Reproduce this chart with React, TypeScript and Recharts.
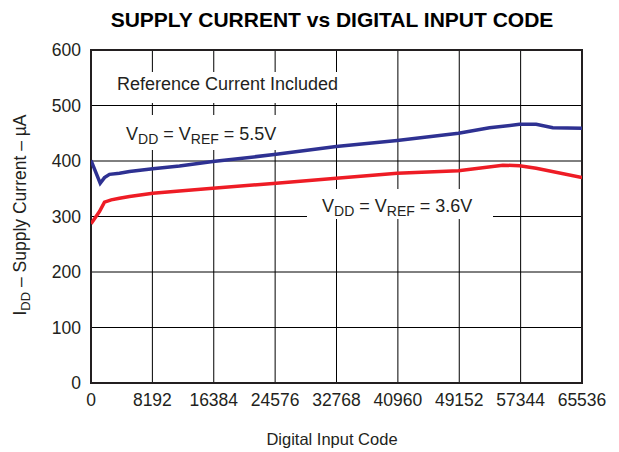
import React from 'react';
import {
  LineChart,
  Line,
  XAxis,
  YAxis,
  CartesianGrid,
  ReferenceArea,
  Customized,
} from 'recharts';

const xTicks = [0, 8192, 16384, 24576, 32768, 40960, 49152, 57344, 65536];
const yTicks = [0, 100, 200, 300, 400, 500, 600];

const codes55 = [0, 1228, 1800, 2470, 3800, 5140, 8250, 11810, 16260, 24720, 32730, 40870, 49050, 53190, 57200, 59420, 61640, 65536];
const current55 = [401, 360, 370, 376, 378, 381, 386, 391, 399, 412, 426, 437, 450, 460, 466, 466, 460, 459];

const codes36 = [0, 1130, 1800, 2700, 3800, 5140, 8250, 11810, 16260, 24720, 32730, 40870, 49050, 54970, 57200, 59420, 65536];
const current36 = [287, 309, 326, 330, 333, 336, 342, 346, 351, 360, 369, 378, 382.5, 392.5, 391.5, 387, 370];

const data55 = codes55.map((c, i) => ({ code: c, v: current55[i] }));
const data36 = codes36.map((c, i) => ({ code: c, v: current36[i] }));

const FONT = '"Liberation Sans", Arial, Helvetica, sans-serif';
const TXT = '#231f20';

const Annotations = () => (
  <g fontFamily={FONT} fill={TXT}>
    <rect x={110} y={72} width={238} height={31} fill="#ffffff" />
    <rect x={119} y={115} width={167} height={35} fill="#ffffff" />
    <rect x={307} y={189} width={186} height={30} fill="#ffffff" />
    <text x={117} y={90} fontSize={18}>Reference Current Included</text>
    <text x={126} y={140} fontSize={18}>
      V<tspan fontSize={14} dy={4}>DD</tspan>
      <tspan dy={-4}> = V</tspan>
      <tspan fontSize={14} dy={4}>REF</tspan>
      <tspan dy={-4}> = 5.5V</tspan>
    </text>
    <text x={322} y={212} fontSize={18}>
      V<tspan fontSize={14} dy={4}>DD</tspan>
      <tspan dy={-4}> = V</tspan>
      <tspan fontSize={14} dy={4}>REF</tspan>
      <tspan dy={-4}> = 3.6V</tspan>
    </text>
    <text x={332} y={27} fontSize={21} fontWeight="bold" textAnchor="middle" fill="#000">
      SUPPLY CURRENT vs DIGITAL INPUT CODE
    </text>
    <text x={332} y={445} fontSize={16.5} textAnchor="middle">Digital Input Code</text>
    <text x={26} y={215} fontSize={17.5} textAnchor="middle" transform="rotate(-90 26 215)">
      I<tspan fontSize={13} dy={4}>DD</tspan>
      <tspan dy={-4}> – Supply Current – µA</tspan>
    </text>
  </g>
);

export default function App() {
  return (
    <div style={{ position: 'absolute', left: 0, top: 0, width: 619, height: 452, background: '#fff' }}>
      <LineChart
        width={619}
        height={452}
        margin={{ top: 50, right: 37, left: 0, bottom: 0 }}
      >
        <CartesianGrid stroke="#000" strokeWidth={1} />
        <XAxis
          dataKey="code"
          type="number"
          domain={[0, 65536]}
          ticks={xTicks}
          interval={0}
          allowDataOverflow
          height={69}
          tickLine={false}
          axisLine={false}
          tickSize={5}
          tickMargin={6}
          tick={{ fill: TXT, fontSize: 17.5, fontFamily: FONT }}
        />
        <YAxis
          type="number"
          domain={[0, 600]}
          ticks={yTicks}
          interval={0}
          width={91}
          tickLine={false}
          axisLine={false}
          tickSize={5}
          tickMargin={5}
          tick={{ fill: TXT, fontSize: 17.5, fontFamily: FONT }}
        />
        <Customized component={Annotations} />
        <ReferenceArea x1={0} x2={65536} y1={0} y2={600} fill="none" stroke="#231f20" strokeWidth={2} ifOverflow="visible" />
        <Line
          data={data36}
          dataKey="v"
          type="linear"
          stroke="#ee1c25"
          strokeWidth={3.5}
          dot={false}
          isAnimationActive={false}
        />
        <Line
          data={data55}
          dataKey="v"
          type="linear"
          stroke="#2e3192"
          strokeWidth={3.5}
          dot={false}
          isAnimationActive={false}
        />
      </LineChart>
    </div>
  );
}
